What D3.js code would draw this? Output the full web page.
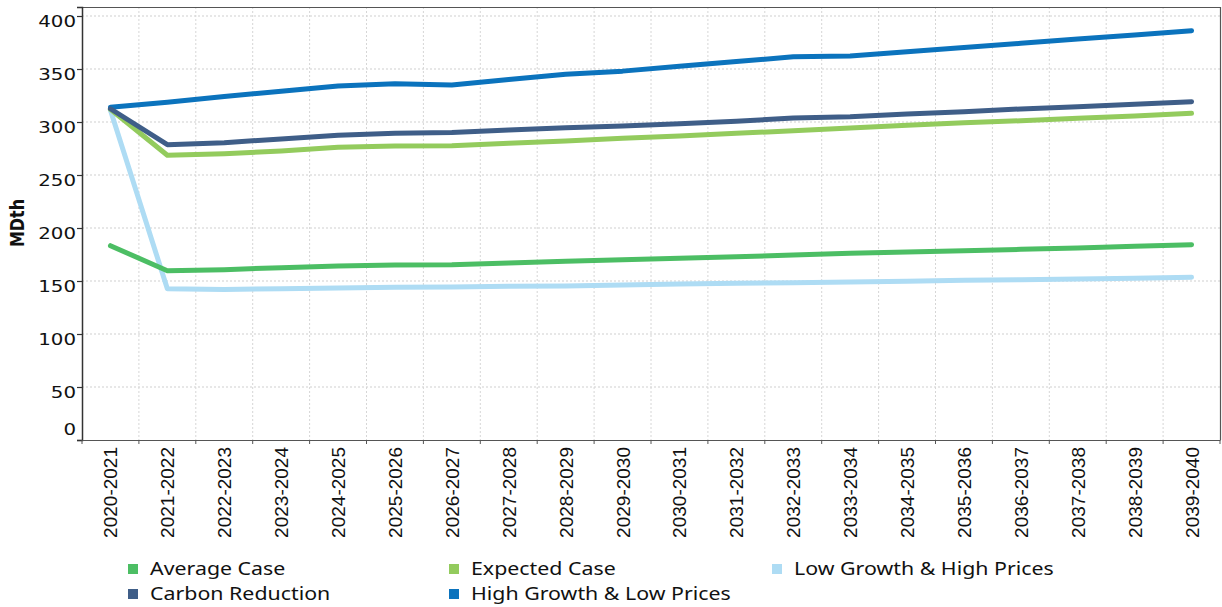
<!DOCTYPE html>
<html>
<head>
<meta charset="utf-8">
<script src="https://cdn.jsdelivr.net/npm/d3@7"></script>
<style>
  html, body { margin: 0; padding: 0; background: #fff; }
  svg { display: block; }
</style>
</head>
<body>
<svg id="chart" width="1222" height="607"></svg>
<script>
const categories = ["2020-2021","2021-2022","2022-2023","2023-2024","2024-2025","2025-2026","2026-2027","2027-2028","2028-2029","2029-2030","2030-2031","2031-2032","2032-2033","2033-2034","2034-2035","2035-2036","2036-2037","2037-2038","2038-2039","2039-2040"];

const averageCase = [183.3,159.7,160.7,162.6,164.2,165.1,165.4,167.0,168.6,170.1,171.4,172.9,174.5,176.1,177.4,178.6,179.9,181.1,182.7,184.3];
const expectedCase = [312.0,268.6,270.1,272.6,276.1,277.4,277.7,279.9,282.0,284.6,286.8,289.3,291.8,294.3,296.9,299.4,301.2,303.5,305.7,308.2];
const lowGrowthHighPrices = [311.0,142.7,142.1,142.7,143.4,144.0,144.3,145.0,145.3,146.2,147.2,147.8,148.4,149.1,149.7,150.6,151.2,151.9,152.5,153.5];
const carbonReduction = [312.5,278.6,280.5,284.0,287.4,289.3,290.0,292.5,294.6,296.2,298.4,300.6,303.8,305.0,307.5,309.7,312.3,314.5,316.7,319.2];
const highGrowthLowPrices = [313.9,318.6,324.0,329.0,334.0,336.0,335.0,340.0,345.0,348.0,352.5,357.0,361.6,362.3,366.3,370.2,374.2,378.3,382.0,386.2];

const yTicks = [0,50,100,150,200,250,300,350,400];
const yLabel = "MDth";

const seriesNames = ["Average Case","Expected Case","Low Growth & High Prices","Carbon Reduction","High Growth & Low Prices"];
const seriesColors = ["#4CBE64","#93CB5D","#AEDCF4","#3F5E88","#0B73BD"];
const seriesValues = [averageCase, expectedCase, lowGrowthHighPrices, carbonReduction, highGrowthLowPrices];
const drawOrder = [2,1,0,4,3];

const svg = d3.select("#chart");
const L = 82, T = 7, R = 1220, B = 440;

const x = d3.scaleBand().domain(categories).range([L, R]).padding(0);
const y = d3.scaleLinear().domain([0, 408.5]).range([B, T]);
const cx = c => x(c) + x.bandwidth() / 2;

// gridlines
const grid = svg.append("g").attr("class", "grid");
grid.selectAll("line.h").data(yTicks.filter(d => d > 0)).join("line")
  .attr("x1", L).attr("x2", R)
  .attr("y1", d => y(d)).attr("y2", d => y(d))
  .attr("stroke", "#cfcfcf").attr("stroke-width", 1).attr("stroke-dasharray", "2,2");
grid.selectAll("line.v").data(categories.slice(1)).join("line")
  .attr("x1", d => x(d)).attr("x2", d => x(d))
  .attr("y1", T).attr("y2", B)
  .attr("stroke", "#d6d6d6").attr("stroke-width", 1).attr("stroke-dasharray", "2,2");

// frame top/right
svg.append("line").attr("x1", L).attr("x2", R).attr("y1", T + 0.5).attr("y2", T + 0.5).attr("stroke", "#555").attr("stroke-width", 1.2);
svg.append("line").attr("x1", R + 0.5).attr("x2", R + 0.5).attr("y1", T).attr("y2", B).attr("stroke", "#555").attr("stroke-width", 1.2);

// y axis
const yAxis = d3.axisLeft(y).tickValues(yTicks).tickSize(5).tickFormat("");
const gy = svg.append("g").attr("transform", `translate(${L},0)`).call(yAxis);
gy.select(".domain").attr("stroke", "#333").attr("stroke-width", 1.5);
gy.selectAll(".tick line").attr("stroke", "#333").attr("stroke-width", 1.2);

const yl = svg.append("g");
yl.selectAll("text").data(yTicks).join("text")
  .attr("transform", d => `translate(76,${d === 0 ? y(d) - 5 : y(d) + 11}) scale(1.2,1)`)
  .attr("text-anchor", "end")
  .attr("font-family", "DejaVu Sans")
  .attr("font-size", 16.5)
  .attr("fill", "#111")
  .text(d => d);

// x axis
const xAxis = d3.axisBottom(x).tickSize(0).tickFormat("");
const gx = svg.append("g").attr("transform", `translate(0,${B})`).call(xAxis);
gx.select(".domain").attr("stroke", "#555").attr("stroke-width", 1.2);
svg.append("g").selectAll("line").data(categories.concat(["end"])).join("line")
  .attr("x1", (d, i) => L + i * x.step()).attr("x2", (d, i) => L + i * x.step())
  .attr("y1", B).attr("y2", B + 4)
  .attr("stroke", "#555").attr("stroke-width", 1);

svg.append("g").selectAll("text").data(categories).join("text")
  .attr("transform", d => `translate(${cx(d) + 7},447) rotate(-90)`)
  .attr("text-anchor", "end")
  .attr("font-family", "Liberation Sans")
  .attr("font-size", 19)
  .attr("fill", "#111")
  .text(d => d);

// y label
svg.append("text")
  .attr("transform", `translate(24,223) rotate(-90) scale(1,1.25)`)
  .attr("text-anchor", "middle")
  .attr("font-family", "DejaVu Sans")
  .attr("font-weight", "bold")
  .attr("font-size", 16)
  .attr("fill", "#111")
  .text(yLabel);

// lines
const line = d3.line().x((d, i) => cx(categories[i])).y(d => y(d));
svg.append("g").selectAll("path").data(drawOrder).join("path")
  .attr("d", k => line(seriesValues[k]))
  .attr("fill", "none")
  .attr("stroke", k => seriesColors[k])
  .attr("stroke-width", 5)
  .attr("stroke-linecap", "round")
  .attr("stroke-linejoin", "round");

// legend
const legendCols = [128, 449, 772];
const legendRows = [569, 594];
const lg = svg.append("g").selectAll("g").data(seriesNames).join("g")
  .attr("transform", (d, i) => `translate(${legendCols[i % 3]},${legendRows[Math.floor(i / 3)]})`);
lg.append("rect").attr("x", 0).attr("y", -5).attr("width", 10).attr("height", 10)
  .attr("fill", (d, i) => seriesColors[i]);
lg.append("text")
  .attr("transform", "translate(22,6) scale(1.22,1)")
  .attr("font-family", "Noto Sans")
  .attr("font-size", 17.5)
  .attr("fill", "#111")
  .text(d => d);
</script>
</body>
</html>
